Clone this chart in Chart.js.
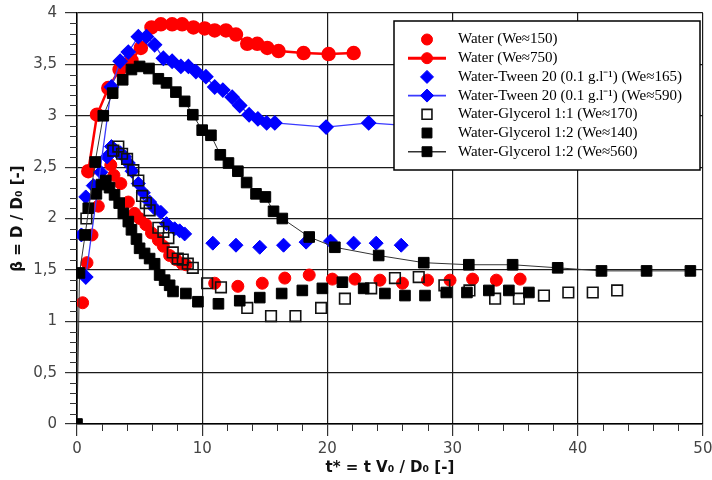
<!DOCTYPE html>
<html>
<head>
<meta charset="utf-8">
<script src="https://cdn.jsdelivr.net/npm/chart.js@4.4.1/dist/chart.umd.min.js"></script>
<style>
  html, body { margin: 0; padding: 0; background: #fff; }
</style>
</head>
<body>
<canvas id="chart" width="712" height="480"></canvas>
<script>
// Water (We≈150) - points only
const waterLowT = [0.45, 0.8, 1.2, 1.7, 2.7, 2.95, 3.5, 4.1, 4.6, 5.0, 5.5, 5.95, 6.5, 6.9, 7.4, 7.9, 8.4, 8.7, 11.0, 12.85, 14.8, 16.6, 18.55, 20.4, 22.2, 24.2, 26.0, 28.0, 29.8, 31.6, 33.5, 35.4];
const waterLowB = [1.18, 1.57, 1.84, 2.12, 2.52, 2.42, 2.34, 2.16, 2.05, 2.0, 1.94, 1.86, 1.79, 1.73, 1.64, 1.60, 1.56, 1.55, 1.37, 1.34, 1.37, 1.42, 1.45, 1.41, 1.41, 1.40, 1.37, 1.40, 1.40, 1.41, 1.40, 1.41];

// Water (We≈750) - line
const waterHighT = [0.9, 1.6, 2.5, 3.4, 4.35, 5.1, 5.95, 6.7, 7.6, 8.4, 9.3, 10.2, 11.0, 11.9, 12.7, 13.6, 14.4, 15.2, 16.1, 18.1, 20.1, 22.1];
const waterHighB = [2.46, 3.01, 3.27, 3.45, 3.54, 3.66, 3.86, 3.89, 3.89, 3.89, 3.86, 3.85, 3.83, 3.83, 3.79, 3.70, 3.70, 3.66, 3.63, 3.61, 3.60, 3.61];

// Water-Tween 20 (We≈165) - points only
const tweenLowT = [0.35, 0.7, 1.3, 1.9, 2.4, 2.75, 3.1, 3.45, 3.8, 4.1, 4.4, 4.9, 5.3, 5.8, 6.2, 6.7, 7.15, 7.8, 8.2, 8.6, 10.85, 12.7, 14.6, 16.5, 18.3, 20.25, 22.1, 23.9, 25.9];
const tweenLowB = [1.84, 2.21, 2.32, 2.45, 2.60, 2.70, 2.66, 2.64, 2.60, 2.54, 2.46, 2.34, 2.25, 2.16, 2.10, 2.06, 1.95, 1.90, 1.88, 1.85, 1.76, 1.74, 1.72, 1.74, 1.77, 1.78, 1.76, 1.76, 1.74];

// Water-Tween 20 (We≈590) - line
const tweenHighT = [0.7, 2.75, 3.45, 4.1, 4.9, 5.55, 6.2, 6.9, 7.6, 8.3, 8.9, 9.5, 10.3, 11.0, 11.65, 12.4, 13.0, 13.75, 14.45, 15.15, 15.8, 19.9, 23.3, 27.0];
const tweenHighB = [1.43, 3.28, 3.53, 3.62, 3.77, 3.77, 3.69, 3.56, 3.53, 3.48, 3.48, 3.43, 3.38, 3.28, 3.25, 3.18, 3.10, 3.01, 2.97, 2.93, 2.93, 2.89, 2.93, 2.90];

// Water-Glycerol 1:1 (We≈170) - open squares
const glyc11T = [0.75, 2.9, 3.3, 3.6, 4.0, 4.5, 4.9, 5.2, 5.5, 5.8, 6.5, 6.9, 7.3, 7.65, 8.05, 8.45, 8.85, 9.25, 10.4, 11.5, 13.6, 15.5, 17.45, 19.5, 21.4, 23.5, 25.4, 27.3, 29.35, 31.35, 33.4, 35.3, 37.3, 39.25, 41.2, 43.15];
const glyc11B = [2.0, 2.66, 2.70, 2.63, 2.58, 2.47, 2.37, 2.22, 2.15, 2.08, 1.91, 1.87, 1.81, 1.67, 1.61, 1.60, 1.56, 1.52, 1.37, 1.33, 1.13, 1.05, 1.05, 1.13, 1.22, 1.32, 1.42, 1.43, 1.35, 1.30, 1.22, 1.22, 1.25, 1.28, 1.28, 1.30];

// Water-Glycerol 1:2 (We≈140) - filled squares
const glyc12LowT = [0.9, 1.55, 1.95, 2.3, 2.6, 3.0, 3.37, 3.7, 4.1, 4.35, 4.75, 5.0, 5.4, 5.8, 6.2, 6.6, 7.0, 7.4, 7.67, 8.7, 9.66, 11.3, 13.0, 14.6, 16.35, 18.0, 19.6, 21.2, 22.9, 24.6, 26.2, 27.8, 29.5, 31.15, 32.9, 34.5, 36.1];
const glyc12LowB = [2.10, 2.24, 2.33, 2.37, 2.30, 2.23, 2.15, 2.05, 1.97, 1.89, 1.80, 1.71, 1.66, 1.61, 1.56, 1.45, 1.40, 1.35, 1.29, 1.27, 1.19, 1.17, 1.20, 1.23, 1.27, 1.30, 1.32, 1.38, 1.32, 1.27, 1.25, 1.25, 1.28, 1.28, 1.30, 1.30, 1.28];

// Water-Glycerol 1:2 (We≈560) - line
const glyc12HighT = [0, 0.2, 0.65, 1.45, 2.1, 2.85, 3.65, 4.35, 5.0, 5.75, 6.5, 7.15, 7.9, 8.6, 9.25, 10.0, 10.7, 11.45, 12.1, 12.85, 13.55, 14.3, 15.05, 15.7, 16.4, 18.55, 20.6, 24.1, 27.7, 31.3, 34.8, 38.4, 41.9, 45.5, 49.0];
const glyc12HighB = [0, 1.47, 1.84, 2.55, 3.0, 3.22, 3.35, 3.45, 3.48, 3.46, 3.36, 3.32, 3.23, 3.14, 3.01, 2.86, 2.81, 2.62, 2.54, 2.46, 2.35, 2.24, 2.21, 2.07, 2.0, 1.82, 1.72, 1.64, 1.57, 1.55, 1.55, 1.52, 1.49, 1.49, 1.49];

const legendLabels = [
  'Water (We≈150)',
  'Water (We≈750)',
  'Water-Tween 20 (0.1 g.l⁻¹) (We≈165)',
  'Water-Tween 20 (0.1 g.l⁻¹) (We≈590)',
  'Water-Glycerol 1:1 (We≈170)',
  'Water-Glycerol 1:2 (We≈140)',
  'Water-Glycerol 1:2 (We≈560)'
];

const xTicks = [0, 10, 20, 30, 40, 50];
const yTicks = [0, 0.5, 1, 1.5, 2, 2.5, 3, 3.5, 4];

const pts = (xs, ys) => xs.map((x, i) => ({ x: x, y: ys[i] }));

const datasets = [
  {
    label: legendLabels[0], data: pts(waterLowT, waterLowB), showLine: false,
    pointStyle: 'circle', pointRadius: 6, backgroundColor: '#ff0000', borderColor: '#ff0000', order: 6
  },
  {
    label: legendLabels[1], data: pts(waterHighT, waterHighB), showLine: true,
    pointStyle: 'circle', pointRadius: 6, backgroundColor: '#ff0000', borderColor: '#ff0000',
    borderWidth: 2.5, order: 5
  },
  {
    label: legendLabels[2], data: pts(tweenLowT, tweenLowB), showLine: false,
    pointStyle: 'rectRot', pointRadius: 7, backgroundColor: '#0000ff', borderColor: '#0000ff', order: 4
  },
  {
    label: legendLabels[3], data: pts(tweenHighT, tweenHighB), showLine: true,
    pointStyle: 'rectRot', pointRadius: 7, backgroundColor: '#0000ff', borderColor: '#3a3aff',
    pointBorderColor: '#0000ff', borderWidth: 1.3, order: 3
  },
  {
    label: legendLabels[4], data: pts(glyc11T, glyc11B), showLine: false,
    pointStyle: 'rect', pointRadius: 7.5, backgroundColor: 'rgba(0,0,0,0)', borderColor: '#111',
    pointBorderWidth: 1.6, order: 2
  },
  {
    label: legendLabels[5], data: pts(glyc12LowT, glyc12LowB), showLine: false,
    pointStyle: 'rect', pointRadius: 7.5, backgroundColor: '#000', borderColor: '#000', order: 1
  },
  {
    label: legendLabels[6], data: pts(glyc12HighT, glyc12HighB), showLine: true,
    pointStyle: 'rect', pointRadius: 7.5, backgroundColor: '#000', borderColor: '#333',
    pointBorderColor: '#000', borderWidth: 1, order: 0
  }
];

// minor tick marks on both axes
const minorTicks = {
  id: 'minorTicks',
  afterDraw(chart) {
    const { ctx, scales: { x, y }, chartArea: a } = chart;
    ctx.save();
    ctx.strokeStyle = '#333';
    ctx.lineWidth = 1;
    ctx.beginPath();
    for (let i = 0; i <= 40; i++) {
      if (i % 5 === 0) continue;
      const py = Math.round(y.getPixelForValue(i / 10)) + 0.5;
      ctx.moveTo(a.left - 7, py);
      ctx.lineTo(a.left, py);
    }
    for (let i = 0; i <= 25; i++) {
      if (i % 5 === 0) continue;
      const px = Math.round(x.getPixelForValue(i * 2)) + 0.5;
      ctx.moveTo(px, a.bottom);
      ctx.lineTo(px, a.bottom + 7);
    }
    ctx.stroke();
    ctx.restore();
  }
};

// boxed legend in the upper right corner
const boxLegend = {
  id: 'boxLegend',
  afterDraw(chart) {
    const ctx = chart.ctx;
    const left = 394, top = 21, right = 700, bottom = 170;
    ctx.save();
    ctx.fillStyle = '#fff';
    ctx.fillRect(left, top, right - left, bottom - top);
    ctx.strokeStyle = '#000';
    ctx.lineWidth = 1.5;
    ctx.strokeRect(left, top, right - left, bottom - top);
    ctx.font = '15px "Liberation Serif", "Times New Roman", serif';
    ctx.textBaseline = 'middle';
    ctx.textAlign = 'left';
    chart.data.datasets.forEach((ds, i) => {
      const cy = 39.5 + i * 18.7;
      const cx = 427;
      if (ds.showLine) {
        ctx.strokeStyle = ds.borderColor;
        ctx.lineWidth = ds.borderWidth + 0.5;
        ctx.beginPath();
        ctx.moveTo(408, cy);
        ctx.lineTo(446, cy);
        ctx.stroke();
      }
      ctx.fillStyle = ds.backgroundColor;
      ctx.strokeStyle = ds.pointBorderColor || ds.borderColor;
      ctx.lineWidth = ds.pointBorderWidth || 1;
      Chart.helpers.drawPoint(ctx, {
        pointStyle: ds.pointStyle,
        radius: ds.pointRadius - 0.5,
        rotation: 0,
        borderWidth: ds.pointBorderWidth || 1
      }, cx, cy);
      ctx.fillStyle = '#000';
      ctx.fillText(ds.label, 458, cy);
    });
    ctx.restore();
  }
};

const tickFont = { family: '"DejaVu Sans", sans-serif', size: 15 };
const titleFont = { family: '"DejaVu Sans", sans-serif', size: 15, weight: 'bold' };

new Chart(document.getElementById('chart').getContext('2d'), {
  type: 'scatter',
  data: { datasets: datasets },
  options: {
    responsive: false,
    animation: false,
    events: [],
    layout: { padding: { top: 13, right: 7, left: 0, bottom: 0 } },
    elements: {
      line: { tension: 0 }
    },
    plugins: {
      legend: { display: false },
      tooltip: { enabled: false }
    },
    scales: {
      x: {
        type: 'linear',
        min: 0,
        max: 50,
        afterBuildTicks: (scale) => { scale.ticks = xTicks.map(v => ({ value: v })); },
        ticks: { font: tickFont, color: '#444', padding: 4, maxRotation: 0 },
        grid: { color: '#1a1a1a', lineWidth: 1.2, tickLength: 12, tickColor: '#333' },
        border: { color: '#000', width: 1.5 },
        title: {
          display: true,
          text: 't* = t V₀ / D₀ [-]',
          font: titleFont,
          color: '#111',
          padding: { top: 0, bottom: 3 }
        },
        afterFit: (scale) => { scale.height = 56; scale.paddingRight = 0; scale.paddingLeft = 0; }
      },
      y: {
        type: 'linear',
        min: 0,
        max: 4,
        afterBuildTicks: (scale) => { scale.ticks = yTicks.map(v => ({ value: v })); },
        ticks: {
          font: tickFont,
          color: '#444',
          padding: 8,
          callback: (v) => String(v).replace('.', ',')
        },
        grid: { color: '#1a1a1a', lineWidth: 1.2, tickLength: 12, tickColor: '#333' },
        border: { color: '#000', width: 1.5 },
        title: {
          display: true,
          text: 'β = D / D₀ [-]',
          font: titleFont,
          color: '#111',
          padding: { top: 9, bottom: 0 }
        },
        afterFit: (scale) => { scale.width = 77; scale.paddingTop = 0; scale.paddingBottom = 0; }
      }
    }
  },
  plugins: [minorTicks, boxLegend]
});
</script>
</body>
</html>
